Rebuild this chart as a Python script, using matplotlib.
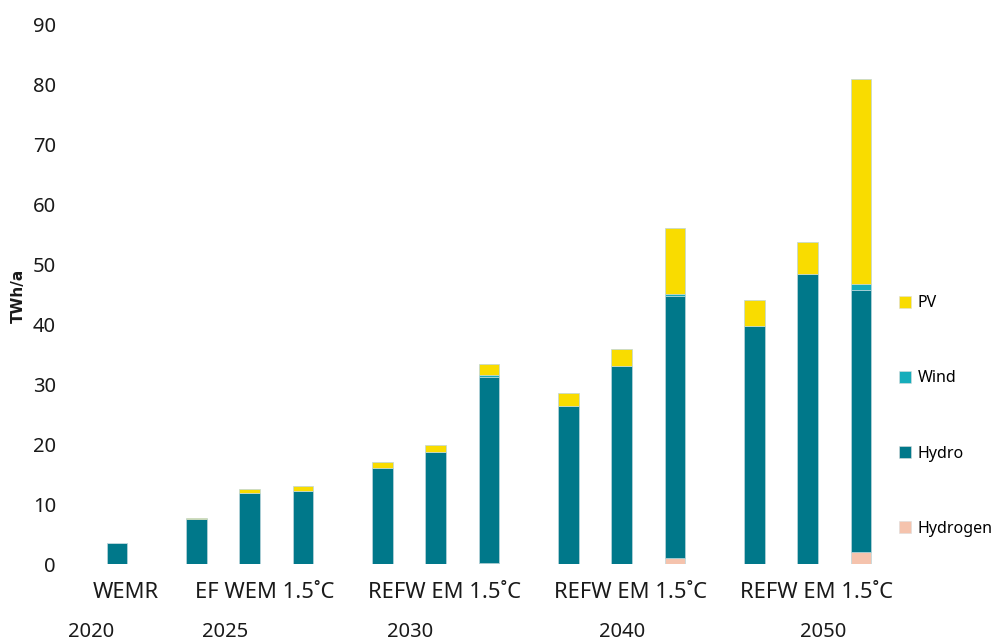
import numpy as np
import matplotlib.pyplot as plt
from matplotlib.patches import Patch

plt.rcParams['font.family'] = ['Noto Sans', 'DejaVu Sans']

# one entry per bar: 2020 WEM | 2025 REF WEM 1.5 | 2030 ... | 2040 ... | 2050 ...
groups = [1, 3, 3, 3, 3]
years = ["2020", "2025", "2030", "2040", "2050"]
group_labels = ["WEMR", "EF WEM 1.5˚C", "REFW EM 1.5˚C", "REFW EM 1.5˚C", "REFW EM 1.5˚C"]

hydrogen = [0, 0, 0, 0, 0, 0, 0.2, 0, 0, 1.05, 0, 0, 2.05]
hydro = [3.45, 7.55, 11.85, 12.2, 16.1, 18.75, 31.1, 26.3, 33.1, 43.65, 39.7, 48.4, 43.7]
wind = [0, 0, 0, 0, 0, 0, 0.3, 0, 0, 0.4, 0.1, 0.1, 1.0]
pv = [0, 0.15, 0.65, 0.8, 0.9, 1.15, 1.8, 2.2, 2.8, 11.0, 4.3, 5.3, 34.25]

colors = {
    "PV": "#f9dc00",
    "Wind": "#16adbb",
    "Hydro": "#00788a",
    "Hydrogen": "#f5c3ad",
}

# bar positions: one slot per bar, 1.5 slots between groups
x = []
centers = []
pos = 0.0
for n in groups:
    xs = [pos + i for i in range(n)]
    x += xs
    centers.append(np.mean(xs))
    pos = xs[-1] + 1.5
x = np.array(x)

fig = plt.figure(figsize=(9.93, 6.41), dpi=100)
ax = fig.add_axes([70 / 993, 77 / 641, 810 / 993, 539 / 641])

w = 0.39
bottom = np.zeros(len(x))
for name, vals in [("Hydrogen", hydrogen), ("Hydro", hydro), ("Wind", wind), ("PV", pv)]:
    vals = np.array(vals)
    ax.bar(x, vals, width=w, bottom=bottom, color=colors[name],
           edgecolor="#bcd6dc", linewidth=0.5, zorder=2)
    bottom += vals

ax.set_xlim(-0.884, 14.36)
ax.set_ylim(0, 90)
ax.set_yticks(range(0, 91, 10))
ax.set_xticks([])
ax.tick_params(axis="y", length=0, pad=10, labelsize=14.5, colors="#1a1a1a")
for s in ax.spines.values():
    s.set_visible(False)

fig.text(18 / 993, 1 - 296 / 641, "TWh/a", rotation=90, ha="center", va="center",
         fontsize=11, fontweight="bold", family=["DejaVu Sans"], color="#1a1a1a")

# scenario labels under each group, and years below them
trans = ax.get_xaxis_transform()
label_shift = [0.16, 0.28, 0.16, 0.16, 0.16]
for c, lab, sh in zip(centers, group_labels, label_shift):
    ax.text(c + sh, -0.052, lab, transform=trans, ha="center", va="center",
            fontsize=15.8, color="#1a1a1a")

year_x = [-0.48, 2.03, 5.52, 9.5, 13.3]
for yx, yr in zip(year_x, years):
    ax.text(yx, -0.126, yr, transform=trans, ha="center", va="center",
            fontsize=14.5, color="#1a1a1a")

handles = [Patch(facecolor=colors[k], edgecolor="#dddddd", linewidth=0.4, label=k)
           for k in ["PV", "Wind", "Hydro", "Hydrogen"]]
fig.legend(handles=handles, loc="upper left", bbox_to_anchor=(893 / 993, 1 - 289 / 641),
           frameon=False, fontsize=11.5, handlelength=0.75, handleheight=0.75,
           handletextpad=0.4, labelspacing=3.7, borderaxespad=0)

fig.savefig("out.png", dpi=100)
